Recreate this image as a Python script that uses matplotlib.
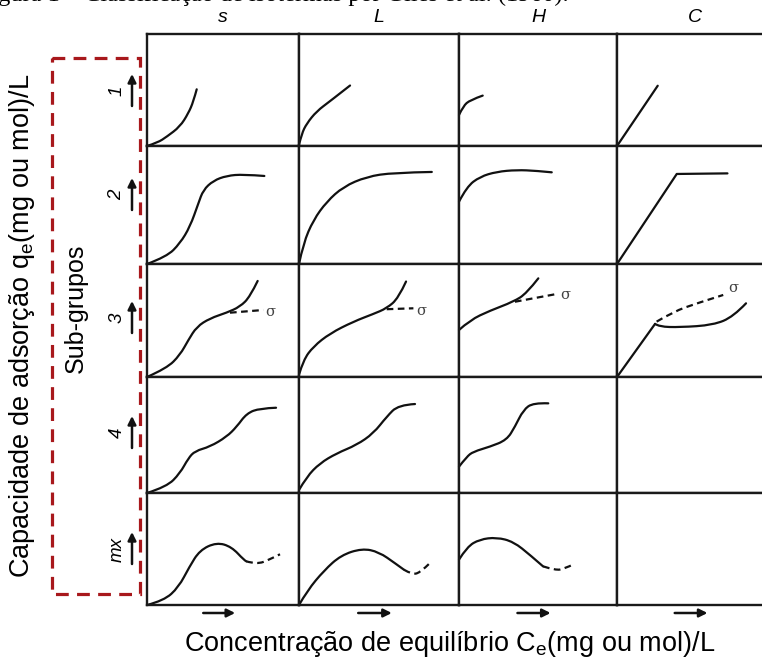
import matplotlib
matplotlib.use("Agg")
import matplotlib.pyplot as plt
from matplotlib.path import Path
from matplotlib.patches import PathPatch, Rectangle

plt.rcParams['font.family'] = ['Liberation Sans', 'DejaVu Sans']

W, H = 762, 661

columns = ['s', 'L', 'H', 'C']
subgroups = ['1', '2', '3', '4', 'mx']
xlabel = 'Concentração de equilíbrio C$_\\mathregular{e}$(mg ou mol)/L'
ylabel = 'Capacidade de adsorção q$_\\mathregular{e}$(mg ou mol)/L'
caption = 'Figura 1 – Classificação de isotermas por Giles et al. (1960).'

# panel edges in pixels
col_edges = [147, 299, 459, 617, 773]
row_edges = [34, 146, 264, 377, 493, 605]

# curves in panel units (0..1)
s1 = ([0.0, 0.07, 0.13, 0.217, 0.272, 0.305, 0.327], [0.0, 0.03, 0.083, 0.173, 0.292, 0.396, 0.506])
l1 = ([0.0, 0.017, 0.048, 0.11, 0.194, 0.319], [0.01, 0.11, 0.20, 0.31, 0.40, 0.54])
h1 = ([0.0, 0.027, 0.07, 0.15], [0.277, 0.357, 0.41, 0.45])
c1 = ([0.0, 0.261], [0.0, 0.538])

s2 = ([0.0, 0.13, 0.217, 0.283, 0.338, 0.37, 0.436, 0.524, 0.634, 0.772],
      [0.0, 0.062, 0.175, 0.316, 0.514, 0.627, 0.706, 0.748, 0.76, 0.746])
l2 = ([0.0, 0.027, 0.09, 0.173, 0.277, 0.423, 0.589, 0.83],
      [0.0, 0.175, 0.373, 0.528, 0.655, 0.74, 0.774, 0.78])
h2 = ([0.0, 0.049, 0.133, 0.239, 0.365, 0.49, 0.587],
      [0.528, 0.655, 0.74, 0.782, 0.797, 0.79, 0.777])
c2 = ([0.0, 0.383, 0.708], [0.0, 0.763, 0.768])

s3 = ([0.0, 0.13, 0.217, 0.272, 0.327, 0.414, 0.524, 0.612, 0.678, 0.728],
      [0.0, 0.077, 0.195, 0.327, 0.445, 0.519, 0.569, 0.622, 0.711, 0.85])
s3_dash = ([0.546, 0.765], [0.569, 0.593])
l3 = ([0.0, 0.027, 0.09, 0.194, 0.34, 0.465, 0.548, 0.621, 0.669],
      [0.02, 0.15, 0.27, 0.386, 0.49, 0.558, 0.608, 0.697, 0.845])
l3_dash = ([0.548, 0.715], [0.6, 0.608])
h3 = ([0.0, 0.07, 0.196, 0.344, 0.428, 0.502], [0.416, 0.504, 0.587, 0.666, 0.74, 0.873])
h3_dash = ([0.354, 0.608], [0.666, 0.732])
c3_ramp = ([0.0, 0.244], [0.0, 0.47])
c3 = ([0.244, 0.27, 0.404, 0.617, 0.746, 0.827], [0.47, 0.445, 0.44, 0.46, 0.534, 0.652])
c3_dash = ([0.254, 0.361, 0.511, 0.681], [0.49, 0.578, 0.652, 0.726])

s4 = ([0.0, 0.13, 0.217, 0.272, 0.316, 0.414, 0.524, 0.59, 0.656, 0.743, 0.849],
      [0.0, 0.054, 0.17, 0.30, 0.362, 0.399, 0.485, 0.571, 0.687, 0.73, 0.735])
l4 = ([0.0, 0.048, 0.13, 0.235, 0.36, 0.465, 0.548, 0.621, 0.725],
      [0.026, 0.14, 0.256, 0.342, 0.414, 0.514, 0.658, 0.759, 0.767])
h4 = ([0.0, 0.049, 0.09, 0.196, 0.302, 0.354, 0.407, 0.47, 0.565],
      [0.227, 0.313, 0.356, 0.399, 0.457, 0.571, 0.716, 0.778, 0.773])

smx = ([0.0, 0.111, 0.208, 0.278, 0.347, 0.458, 0.556, 0.639, 0.653],
       [0.0, 0.039, 0.159, 0.339, 0.489, 0.559, 0.52, 0.4, 0.39])
smx_dash = ([0.653, 0.722, 0.806, 0.875], [0.39, 0.363, 0.405, 0.453])
lmx = ([0.0, 0.052, 0.157, 0.262, 0.394, 0.499, 0.604, 0.656],
       [0.0, 0.129, 0.309, 0.444, 0.505, 0.474, 0.369, 0.315])
lmx_dash = ([0.656, 0.709, 0.761, 0.814], [0.315, 0.27, 0.294, 0.369])
hmx = ([0.0, 0.051, 0.131, 0.238, 0.345, 0.452, 0.532],
       [0.405, 0.52, 0.586, 0.604, 0.565, 0.444, 0.345])
hmx_dash = ([0.532, 0.612, 0.666, 0.725], [0.345, 0.309, 0.324, 0.363])

sigma_pos = {(2, 0): (0.81, 0.578), (2, 1): (0.763, 0.58), (2, 2): (0.67, 0.726), (2, 3): (0.746, 0.785)}

smooth = {(0, 0): [s1], (0, 1): [l1], (0, 2): [h1],
          (1, 0): [s2], (1, 1): [l2], (1, 2): [h2],
          (2, 0): [s3], (2, 1): [l3], (2, 2): [h3], (2, 3): [c3],
          (3, 0): [s4], (3, 1): [l4], (3, 2): [h4],
          (4, 0): [smx], (4, 1): [lmx], (4, 2): [hmx]}
dashed = {(2, 0): [s3_dash], (2, 1): [l3_dash], (2, 2): [h3_dash], (2, 3): [c3_dash],
          (4, 0): [smx_dash], (4, 1): [lmx_dash], (4, 2): [hmx_dash]}
straight = {(0, 3): [c1], (1, 3): [c2], (2, 3): [c3_ramp]}


def smooth_path(xs, ys):
    pts = list(zip(xs, ys))
    verts = [pts[0]]
    codes = [Path.MOVETO]
    if len(pts) == 2:
        return Path(pts)
    for i in range(1, len(pts) - 1):
        if i == len(pts) - 2:
            end = pts[-1]
        else:
            end = ((pts[i][0] + pts[i + 1][0]) / 2, (pts[i][1] + pts[i + 1][1]) / 2)
        verts += [pts[i], end]
        codes += [Path.CURVE3, Path.CURVE3]
    return Path(verts, codes)


fig = plt.figure(figsize=(W / 100, H / 100), dpi=100)
ink = '#111111'

for r in range(5):
    for c in range(4):
        x0, x1 = col_edges[c], col_edges[c + 1]
        y0, y1 = row_edges[r], row_edges[r + 1]
        ax = fig.add_axes([x0 / W, 1 - y1 / H, (x1 - x0) / W, (y1 - y0) / H])
        ax.set_xlim(0, 1)
        ax.set_ylim(0, 1)
        ax.set_xticks([])
        ax.set_yticks([])
        for sp in ax.spines.values():
            sp.set_linewidth(1.7)
            sp.set_color('#1a1a1a')
        for xs, ys in smooth.get((r, c), []):
            ax.add_patch(PathPatch(smooth_path(xs, ys), fill=False, lw=1.6, ec=ink,
                                   capstyle='round', joinstyle='round', clip_on=False))
        for xs, ys in dashed.get((r, c), []):
            ax.add_patch(PathPatch(smooth_path(xs, ys), fill=False, lw=1.6, ec=ink,
                                   linestyle=(0, (3, 2)), clip_on=False))
        for xs, ys in straight.get((r, c), []):
            ax.plot(xs, ys, color=ink, lw=1.6, solid_capstyle='round', clip_on=False)
        if (r, c) in sigma_pos:
            sx, sy = sigma_pos[(r, c)]
            ax.text(sx, sy, 'σ', fontsize=10.5, color='#444444', ha='center', va='center',
                    family=['DejaVu Serif'])

# overlay in pixel units for labels and decorations
ov = fig.add_axes([0, 0, 1, 1])
ov.set_xlim(0, W)
ov.set_ylim(H, 0)
ov.axis('off')
ov.patch.set_alpha(0)

# caption of the source page, cut at the top edge as in the picture
ov.text(-22, 1.5, caption, fontsize=17.5, family=['Liberation Serif'], ha='left', va='baseline')

for c, name in enumerate(columns):
    cx = (col_edges[c] + col_edges[c + 1]) / 2
    ov.text(cx, 18, name, fontsize=14, style='italic', ha='center', va='center')
    w = col_edges[c + 1] - col_edges[c]
    ov.annotate('', xy=(col_edges[c] + 0.58 * w, 613), xytext=(col_edges[c] + 0.37 * w, 613),
                arrowprops=dict(arrowstyle='-|>', lw=1.8, color=ink, mutation_scale=12,
                                shrinkA=0, shrinkB=0))

label_y = [91, 195, 318, 433, 549]
for lab, ly in zip(subgroups, label_y):
    ov.text(117, ly, lab, fontsize=13.5, style='italic', rotation=90, ha='center', va='center')
    ov.annotate('', xy=(132, ly - 17), xytext=(132, ly + 15),
                arrowprops=dict(arrowstyle='-|>', lw=1.8, color=ink, mutation_scale=12,
                                shrinkA=0, shrinkB=0))

ov.add_patch(Rectangle((52, 58), 88, 536, fill=False, ec='#a8181c', lw=2.3,
                       linestyle=(0, (4, 2.6))))

ov.text(76, 308, 'Sub-grupos', fontsize=18, rotation=90, ha='center', va='center')
ov.text(22, 326, ylabel, fontsize=19.5, rotation=90, ha='center', va='center')
ov.text(450, 644, xlabel, fontsize=19.5, ha='center', va='center')

fig.savefig('out.png', dpi=100)
